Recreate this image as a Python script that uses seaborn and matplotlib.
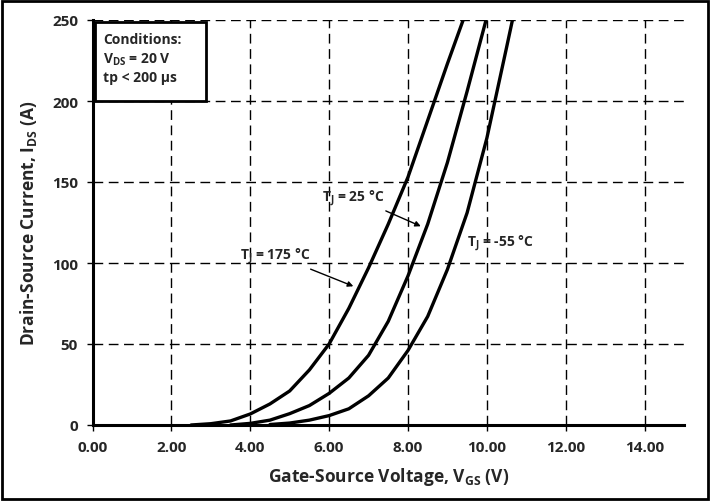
import numpy as np
import pandas as pd
import matplotlib
matplotlib.use("Agg")
import matplotlib.pyplot as plt
import seaborn as sns
from matplotlib.patches import Rectangle

# Transfer characteristics
vgs_175 = [2.5, 3.0, 3.5, 4.0, 4.5, 5.0, 5.5, 6.0, 6.5, 7.0, 7.5, 8.0, 8.5, 9.0, 9.4]
ids_175 = [0.0, 0.8, 2.5, 6.8, 13.0, 21.0, 34.0, 50.0, 72.0, 97.0, 124.0, 153.0, 188.0, 223.0, 250.0]

vgs_25 = [3.5, 4.0, 4.5, 5.0, 5.5, 6.0, 6.5, 7.0, 7.5, 8.0, 8.5, 9.0, 9.5, 9.98]
ids_25 = [0.0, 1.0, 3.0, 7.0, 12.0, 19.5, 29.0, 43.0, 64.0, 92.0, 124.0, 162.0, 206.0, 250.0]

vgs_m55 = [4.5, 5.0, 5.5, 6.0, 6.5, 7.0, 7.5, 8.0, 8.5, 9.0, 9.5, 10.0, 10.5, 10.65]
ids_m55 = [0.3, 1.2, 3.0, 5.8, 10.0, 18.0, 29.0, 46.0, 67.0, 96.0, 131.0, 177.0, 233.0, 250.0]

x_ticks = [0, 2, 4, 6, 8, 10, 12, 14]
y_ticks = [0, 50, 100, 150, 200, 250]

df = pd.concat([
    pd.DataFrame({"vgs": vgs_175, "ids": ids_175, "tj": "175"}),
    pd.DataFrame({"vgs": vgs_25, "ids": ids_25, "tj": "25"}),
    pd.DataFrame({"vgs": vgs_m55, "ids": ids_m55, "tj": "-55"}),
])

sns.set_style("white")
plt.rcParams["font.family"] = ["Open Sans", "DejaVu Sans"]
plt.rcParams["font.weight"] = "bold"
plt.rcParams["mathtext.fontset"] = "custom"
plt.rcParams["mathtext.rm"] = "Open Sans:bold"
plt.rcParams["mathtext.it"] = "Open Sans:bold"
plt.rcParams["mathtext.bf"] = "Open Sans:bold"

fig = plt.figure(figsize=(7.10, 5.02), dpi=100)
ax = fig.add_axes([92.5 / 710, (502 - 426) / 502, (684 - 92.5) / 710, (426 - 21) / 502])

sns.lineplot(data=df, x="vgs", y="ids", hue="tj", units="tj", estimator=None,
             palette=["black", "black", "black"], linewidth=2.4, sort=False,
             legend=False, ax=ax, solid_joinstyle="round")

ax.set_xlim(0, 15)
ax.set_ylim(0, 250)
ax.set_xticks(x_ticks)
ax.set_xticklabels([f"{v:.2f}" for v in x_ticks], fontsize=11, fontweight="bold")
ax.set_yticks(y_ticks)
ax.set_yticklabels([str(v) for v in y_ticks], fontsize=11, fontweight="bold")
ax.grid(True, color="black", linestyle=(0, (7, 4)), linewidth=1)
ax.tick_params(axis="both", which="both", direction="out", length=4, width=1,
               color="black", bottom=True, left=True, pad=6.5)

for side in ["top", "right"]:
    ax.spines[side].set_visible(False)
for side in ["left", "bottom"]:
    ax.spines[side].set_color("black")
    ax.spines[side].set_linewidth(2.2)

ax.set_xlabel(r"Gate-Source Voltage, V$_{\mathregular{GS}}$ (V)", fontsize=12.5,
              fontweight="bold", labelpad=8)
ax.set_ylabel(r"Drain-Source Current, I$_{\mathregular{DS}}$ (A)", fontsize=12.5,
              fontweight="bold", labelpad=9)

# Conditions box
ax.add_patch(Rectangle((0.0042, 0.80), 0.188, 0.195, transform=ax.transAxes,
                       fc="white", ec="black", lw=2, zorder=4))
cond_lines = ["Conditions:", r"V$_{\mathregular{DS}}$ = 20 V", "tp < 200 µs"]
for line, yy in zip(cond_lines, [0.943, 0.896, 0.849]):
    ax.text(0.0178, yy, line, transform=ax.transAxes, ha="left", va="baseline",
            fontsize=10, fontweight="bold", zorder=5)

arrow = dict(arrowstyle="-|>", color="black", lw=1, mutation_scale=8)
ax.annotate(r"T$_{\mathregular{J}}$ = 25 °C", xy=(8.39, 122), xytext=(6.61, 141),
            ha="center", va="center", fontsize=10, fontweight="bold",
            arrowprops=arrow)
ax.annotate(r"T$_{\mathregular{J}}$ = 175 °C", xy=(6.68, 85), xytext=(4.63, 105),
            ha="center", va="center", fontsize=10, fontweight="bold",
            arrowprops=arrow)
ax.text(10.36, 113, r"T$_{\mathregular{J}}$ = -55 °C", ha="center", va="center",
        fontsize=10, fontweight="bold")

fig.patches.append(Rectangle((0.003, 0.004), 0.994, 0.992, transform=fig.transFigure,
                             fill=False, ec="black", lw=2))

fig.savefig("out.png", dpi=100)
